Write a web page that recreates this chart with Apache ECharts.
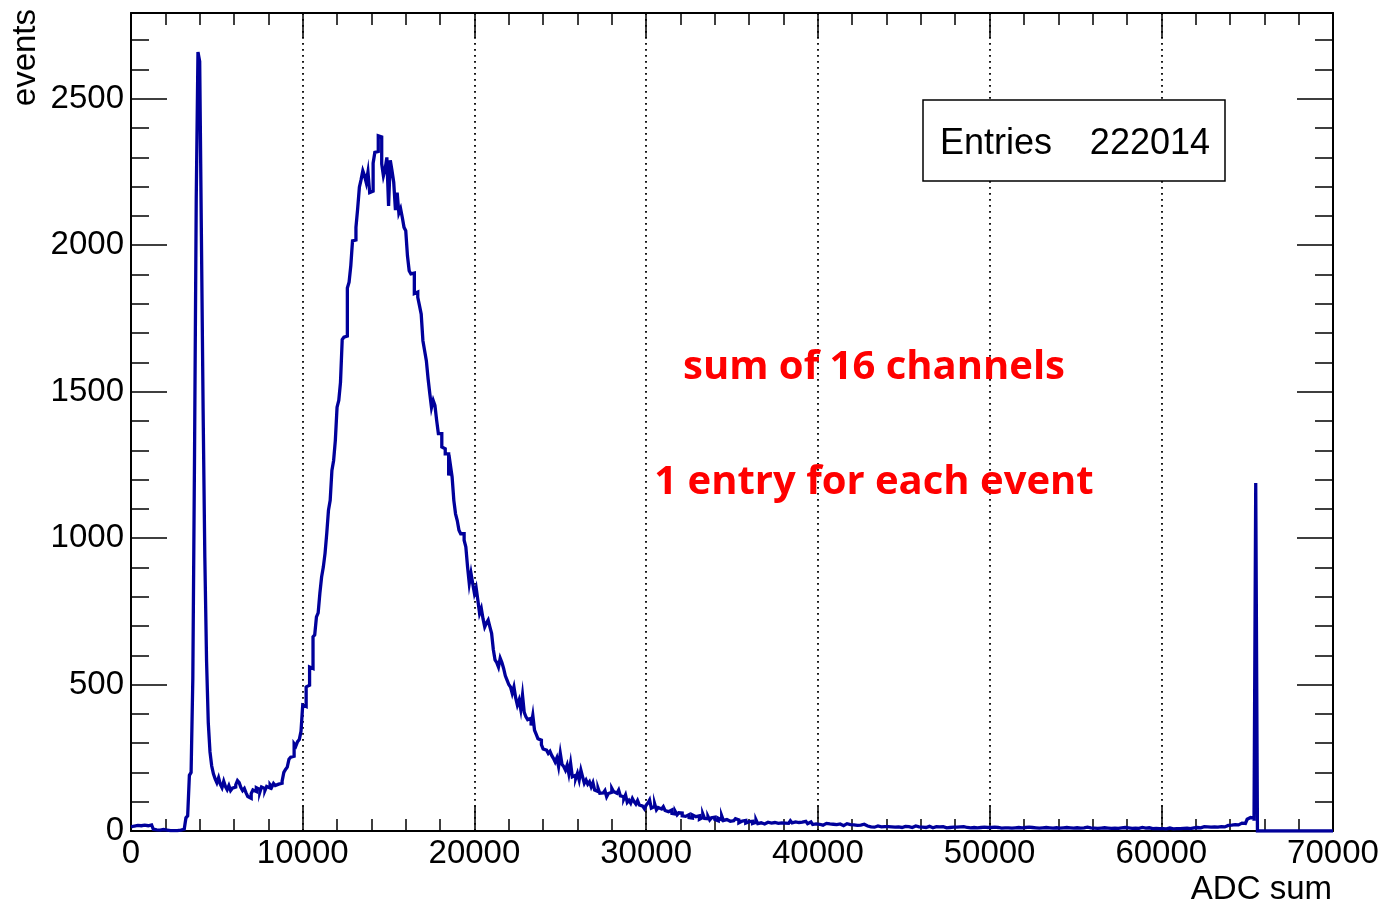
<!DOCTYPE html>
<html>
<head>
<meta charset="utf-8">
<script src="https://cdn.jsdelivr.net/npm/echarts@6/dist/echarts.min.js"></script>
<style>
html,body{margin:0;padding:0;background:#fff;}
#chart{width:1383px;height:906px;}
</style>
</head>
<body>
<div id="chart"></div>
<script>
// Histogram: ADC sum, bins of 100 from 0 to 70000
const binWidth = 100;
const xRange = [0, 70000];
const xInterval = 10000;
const yMax = 2793;
const yInterval = 500;
const xTitle = 'ADC sum';
const yTitle = 'events';
const statsLabel = 'Entries';
const statsValue = '222014';
const notes = ['sum of 16 channels', '1 entry for each event'];

const counts = [
 14,17,16,19,15,18,17,20,16,18,
 19,21,18,6,4,5,3,4,5,3,
 3,2,1,2,1,2,1,2,3,4,
 6,9,45,52,190,200,520,1285,2165,2660,
 2628,2033,1435,933,581,370,270,222,195,178,
 165,182,160,148,170,152,141,155,138,146,
 150,158,172,165,148,138,145,130,118,112,
 128,140,135,148,142,132,150,145,138,152,
 147,158,150,162,155,160,165,163,170,200,
 210,218,245,252,255,298,290,305,312,340,
 430,425,492,498,560,555,663,670,731,745,
 812,867,901,948,1016,1095,1129,1231,1265,1334,
 1447,1470,1532,1678,1686,1690,1854,1874,1930,2015,
 2018,2061,2125,2198,2224,2254,2237,2214,2250,2180,
 2185,2280,2317,2320,2374,2370,2278,2237,2260,2300,
 2134,2290,2254,2215,2120,2180,2110,2125,2095,2061,
 2050,1964,1913,1902,1905,1835,1840,1822,1794,1765,
 1674,1640,1606,1545,1494,1446,1470,1453,1402,1357,
 1357,1311,1305,1288,1288,1214,1250,1209,1129,1083,
 1060,1027,1015,1015,993,970,902,845,880,845,
 811,830,788,743,760,725,697,710,720,697,
 675,620,584,575,560,590,575,555,530,515,
 500,492,470,492,455,430,447,415,464,405,
 390,380,385,360,395,344,330,315,310,295,
 280,276,270,265,272,258,248,236,250,220,
 265,228,220,208,225,195,231,185,190,180,
 197,174,208,185,163,174,160,168,151,165,
 140,135,146,129,130,125,138,117,128,132,
 146,135,129,125,140,120,117,110,123,98,
 105,95,111,100,92,104,89,85,80,76,
 88,95,106,78,84,92,72,80,75,70,
 83,70,66,65,72,60,58,66,55,62,
 61,52,50,48,56,46,44,55,49,45,
 52,40,46,58,43,42,50,38,45,47,
 40,35,44,38,52,36,39,41,33,30,
 35,31,42,38,28,34,30,36,27,32,
 29,33,26,30,38,25,28,31,24,27,
 30,25,27,22,29,24,26,32,28,30,
 27,30,26,32,35,28,31,33,29,26,
 30,27,33,28,25,31,26,22,24,21,
 23,25,20,22,26,21,24,19,23,25,
 22,20,24,21,18,23,25,20,22,19,
 21,24,19,22,20,18,23,21,17,16,
 14,16,13,15,17,12,14,16,15,13,
 15,12,14,17,13,16,14,15,12,14,
 16,13,15,14,12,15,17,13,14,12,
 13,15,12,14,16,13,11,14,15,12,
 14,12,15,13,11,14,12,16,13,12,
 13,11,14,12,15,13,12,14,11,13,
 12,14,11,13,12,10,13,18,12,11,
 12,10,13,11,12,14,10,12,11,13,
 11,12,10,13,11,9,12,14,11,10,
 12,11,13,10,12,9,11,12,10,13,
 11,10,12,9,11,13,10,12,11,9,
 10,12,11,9,12,10,11,13,10,12,
 11,9,10,12,11,10,13,9,11,10,
 10,12,9,11,10,12,11,9,10,11,
 9,11,10,12,9,10,11,9,12,10,
 11,10,9,12,10,11,9,10,12,11,
 10,9,11,10,8,10,9,11,8,9,
 8,9,7,8,10,8,7,9,8,7,
 8,7,9,8,10,7,8,9,11,10,
 12,14,11,13,15,12,14,16,13,15,
 14,16,13,17,15,18,14,16,19,17,
 20,18,22,25,21,24,27,23,26,29,
 40,46,47,44,35,1188,0,0,0,0,
 0,0,0,0,0,0,0,0,0,0,
 0,0,0,0,0,0,0,0,0,0,
 0,0,0,0,0,0,0,0,0,0,
 0,0,0,0,0,0,0,0,0,0
];

const data = counts.map((c, i) => [xRange[0] + i * binWidth, c]);
data.push([xRange[0] + counts.length * binWidth, counts[counts.length - 1]]);

const FONT = "'Liberation Sans', Arial, Helvetica, sans-serif";
const black = '#000';
const fmt = v => String(Math.round(v));

const chart = echarts.init(document.getElementById('chart'), null, {renderer: 'canvas'});

function xAx(pos, labels) {
  return {
    type: 'value', position: pos, min: xRange[0], max: xRange[1], interval: xInterval,
    axisLine: {show: true, onZero: false, lineStyle: {color: black, width: 2}},
    axisTick: {show: true, inside: true, length: 25, lineStyle: {color: black, width: 1.5}},
    minorTick: {show: true, splitNumber: 5, length: 12, lineStyle: {color: black, width: 1.5}},
    axisLabel: {show: labels, color: black, fontFamily: FONT, fontSize: 33, margin: 6, formatter: fmt,
      showMinLabel: true, showMaxLabel: true},
    splitLine: {show: labels, lineStyle: {color: black, width: 1.8, type: [1.8, 4.2]}},
    minorSplitLine: {show: false}
  };
}
function yAx(pos, interval, len, labels, line) {
  return {
    type: 'value', position: pos, offset: 0, min: 0, max: yMax, interval: interval,
    axisLine: {show: line, onZero: false, lineStyle: {color: black, width: 2}},
    axisTick: {show: true, inside: true, length: len, lineStyle: {color: black, width: 1.5}},
    axisLabel: {show: labels, color: black, fontFamily: FONT, fontSize: 33, margin: 7, formatter: fmt,
      showMaxLabel: false, showMinLabel: true},
    splitLine: {show: false}
  };
}

chart.setOption({
  animation: false,
  backgroundColor: '#fff',
  grid: {left: 131, right: 50, top: 13, bottom: 75, containLabel: false},
  xAxis: [xAx('bottom', true), xAx('top', false)],
  yAxis: [
    yAx('left', yInterval, 36, true, true),
    yAx('left', yInterval / 5, 18, false, false),
    yAx('right', yInterval, 36, false, true),
    yAx('right', yInterval / 5, 18, false, false)
  ],
  series: [{
    type: 'line', step: 'end', data: data, xAxisIndex: 0, yAxisIndex: 0,
    showSymbol: false, symbol: 'none', sampling: null, clip: true,
    lineStyle: {color: '#00009b', width: 3.3, join: 'miter'},
    z: 5
  }],
  graphic: [
    {type: 'text', x: 26, y: 9, rotation: Math.PI / 2,
     style: {text: yTitle, font: '33px ' + FONT, fill: black, textAlign: 'right', textVerticalAlign: 'middle'}},
    {type: 'text', x: 1332, y: 890,
     style: {text: xTitle, font: '33px ' + FONT, fill: black, textAlign: 'right', textVerticalAlign: 'middle'}},
    {type: 'rect', shape: {x: 923, y: 100, width: 302, height: 81}, z: 10,
     style: {fill: '#fff', stroke: black, lineWidth: 1.5}},
    {type: 'text', x: 940, y: 144, z: 11,
     style: {text: statsLabel, font: '36px ' + FONT, fill: black, textAlign: 'left', textVerticalAlign: 'middle'}},
    {type: 'text', x: 1210, y: 144, z: 11,
     style: {text: statsValue, font: '36px ' + FONT, fill: black, textAlign: 'right', textVerticalAlign: 'middle'}},
    {type: 'text', x: 874, y: 368, z: 11,
     style: {text: notes[0], font: "bold 40px 'Open Sans', sans-serif", fill: '#ff0000', textAlign: 'center', textVerticalAlign: 'middle'}},
    {type: 'text', x: 874, y: 483, z: 11,
     style: {text: notes[1], font: "bold 40px 'Open Sans', sans-serif", fill: '#ff0000', textAlign: 'center', textVerticalAlign: 'middle'}}
  ]
});
</script>
</body>
</html>
